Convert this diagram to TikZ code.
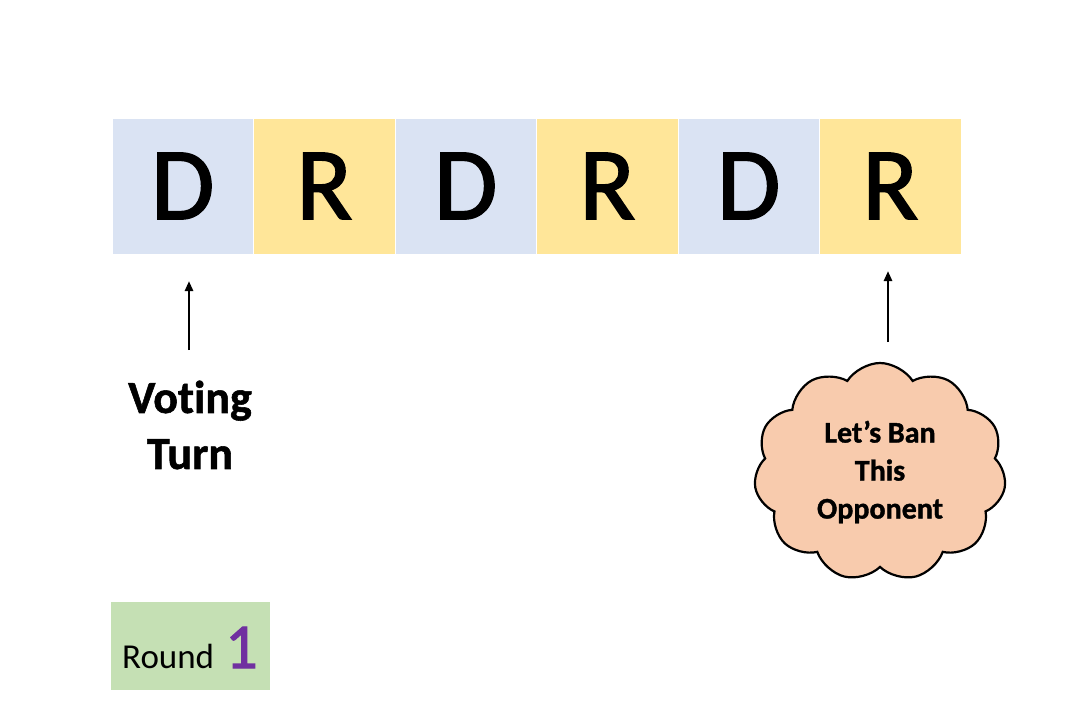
\documentclass[tikz,border=0pt]{standalone}
\usepackage{fontspec}
\setmainfont{Carlito}
\newfontfamily\heavy[FakeBold=1.6,Ligatures=NoCommon]{Carlito}
\newfontfamily\heavybold[FakeBold=1.2,UprightFont=* Bold,Ligatures=NoCommon]{Carlito}
\usetikzlibrary{shapes.symbols,arrows.meta}
\definecolor{dblue}{HTML}{DAE3F3}
\definecolor{ryel}{HTML}{FFE699}
\definecolor{rgreen}{HTML}{C5E0B4}
\definecolor{cloudc}{HTML}{F8CBAD}
\definecolor{purp}{HTML}{7030A0}
\tikzset{
  cell/.style={draw=white, line width=1pt, minimum width=141.5pt, minimum height=136pt, inner sep=0pt, font=\heavy\fontsize{103}{103}\selectfont},
  dcell/.style={cell, fill=dblue},
  rcell/.style={cell, fill=ryel},
  arr/.style={line width=2.8pt, -{Triangle[length=10pt,width=8pt]}},
}
\begin{document}
\begin{tikzpicture}[x=1pt,y=-1pt]
\useasboundingbox (0,0) rectangle (1073,720);
\fill[white] (0,0) rectangle (1073,720);
\node[dcell] (c1) at (182.75,186) {D};
\node[rcell] (c2) at (324.25,186) {R};
\node[dcell] (c3) at (465.75,186) {D};
\node[rcell] (c4) at (607.25,186) {R};
\node[dcell] (c5) at (748.75,186) {D};
\node[rcell] (c6) at (890.25,186) {R};
\coordinate (a1b) at (189,350);
\coordinate (a1t) at (189,281);
\draw[arr] (a1b) -- (a1t);
\coordinate (a2b) at (888,342);
\coordinate (a2t) at (888,271);
\draw[arr] (a2b) -- (a2t);
\node[font=\heavybold\fontsize{46}{56}\selectfont, align=center] (vt) at (190,425) {Voting\\Turn};
\node[cloud, cloud puffs=11, cloud puff arc=115, aspect=1.15, draw=black, line width=2.2pt, fill=cloudc,
  minimum width=252pt, minimum height=218pt, inner sep=0pt,
  font=\heavybold\fontsize{30}{38}\selectfont, align=center] (cl) at (880,472) {Let’s Ban\\This\\Opponent};
\node[fill=rgreen, minimum width=159pt, minimum height=88pt, inner sep=0pt] (rb) at (190.5,646) {};
\node[anchor=base west, inner sep=0pt, font=\fontsize{35}{35}\selectfont] (rt) at (122,668) {Round};
\node[anchor=base west, inner sep=0pt, font=\heavy\fontsize{64}{64}\selectfont, text=purp] (rn) at (rt.base east) {\,1};
\end{tikzpicture}
\end{document}
